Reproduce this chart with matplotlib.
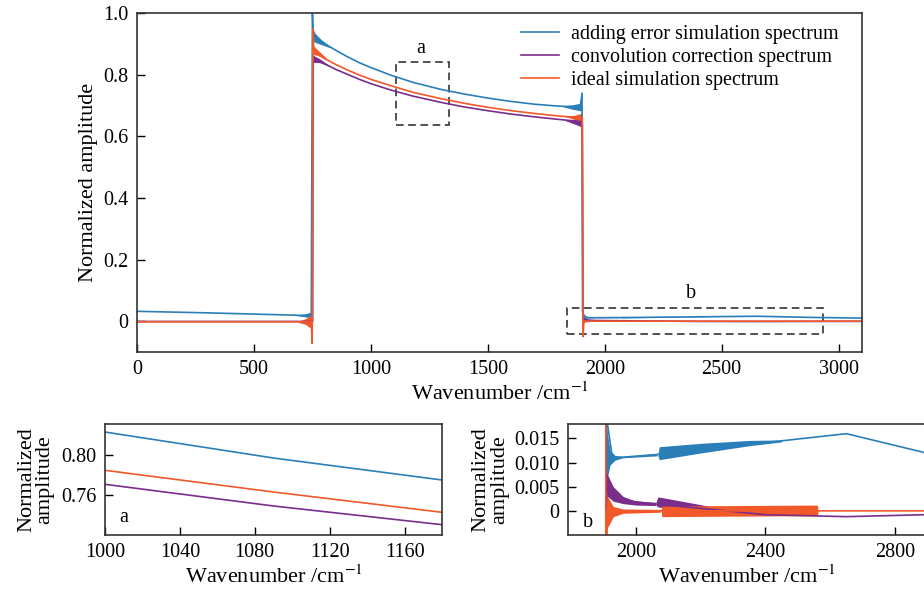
import matplotlib
matplotlib.use("Agg")
import matplotlib.pyplot as plt
from matplotlib.patches import Rectangle

plt.rcParams['font.family'] = ['Liberation Serif', 'DejaVu Serif']
plt.rcParams['mathtext.fontset'] = 'stix'

BLUE = '#2b7fb8'
PURPLE = '#7b2d8b'
ORANGE = '#f2592a'

# anchor points (wavenumber, amplitude)
blue_x = [0, 300, 600, 745, 750, 753, 760, 800, 850, 900, 950, 1000, 1090, 1180, 1300, 1400,
          1500, 1600, 1700, 1800, 1895, 1903, 1905, 1912, 1925, 1935, 2070, 2650, 2890, 3100]
blue_y = [0.032, 0.027, 0.021, 0.018, 1.0, 0.94, 0.925, 0.902, 0.879, 0.858, 0.839, 0.823,
          0.797, 0.775, 0.752, 0.737, 0.724, 0.713, 0.704, 0.698, 0.695, 0.74, 0.03, 0.018,
          0.012, 0.011, 0.0117, 0.016, 0.0121, 0.010]

purple_x = [0, 745, 751, 753, 760, 800, 850, 900, 950, 1000, 1090, 1180, 1300, 1400, 1500,
            1600, 1700, 1800, 1895, 1904, 1907, 1912, 1930, 1960, 2060, 2250, 2400, 2650,
            2890, 3100]
purple_y = [-0.001, -0.001, -0.001, 0.86, 0.855, 0.836, 0.817, 0.801, 0.785, 0.7707, 0.749,
            0.7303, 0.71, 0.695, 0.683, 0.672, 0.663, 0.655, 0.648, 0.645, 0.0, 0.006,
            0.0035, 0.0022, 0.0014, 0.0002, -0.0008, -0.0012, -0.0008, -0.0006]

orange_x = [0, 745, 749, 752, 756, 760, 800, 850, 900, 950, 1000, 1090, 1180, 1300, 1400,
            1500, 1600, 1700, 1800, 1895, 1904, 1907, 1911, 3100]
orange_y = [-0.002, -0.002, -0.072, 0.95, 0.88, 0.875, 0.853, 0.833, 0.815, 0.799, 0.7847,
            0.763, 0.7427, 0.722, 0.707, 0.694, 0.683, 0.674, 0.666, 0.660, 0.66, -0.05,
            0.0, 0.0]

# ringing envelopes: (x, lower, upper)
blue_bands = [
    ([680, 720, 746], [0.018, 0.014, 0.010], [0.020, 0.024, 0.030]),
    ([753, 760, 790, 830], [0.91, 0.905, 0.897, 0.886], [0.95, 0.935, 0.912, 0.889]),
    ([1820, 1860, 1900], [0.696, 0.688, 0.682], [0.699, 0.702, 0.708]),
    ([1907, 1912, 1920, 1935, 1960, 2065], [0.0, 0.007, 0.0095, 0.0105, 0.011, 0.0114],
     [0.02, 0.016, 0.0125, 0.0115, 0.0113, 0.0119]),
    ([2068, 2072, 2200, 2350, 2450], [0.0114, 0.0106, 0.0120, 0.0135, 0.0143],
     [0.0119, 0.0133, 0.0140, 0.0146, 0.0147]),
]
purple_bands = [
    ([754, 780, 820], [0.84, 0.839, 0.828], [0.862, 0.852, 0.831]),
    ([1830, 1870, 1902], [0.651, 0.640, 0.630], [0.654, 0.655, 0.658]),
    ([1907, 1912, 1930, 1960, 2000, 2060], [0.0, 0.003, 0.002, 0.0015, 0.0012, 0.0011],
     [0.008, 0.0075, 0.005, 0.003, 0.002, 0.0018]),
    ([2062, 2068, 2150, 2280], [0.0011, 0.0008, 0.0003, -0.0001], [0.0018, 0.0029, 0.0019, 0.0003]),
]
orange_bands = [
    ([690, 720, 746], [-0.004, -0.010, -0.025], [0.0, 0.008, 0.020]),
    ([753, 770, 810], [0.865, 0.863, 0.849], [0.895, 0.882, 0.853]),
    ([1830, 1870, 1902], [0.664, 0.655, 0.645], [0.666, 0.668, 0.675]),
    ([1907, 1912, 1930, 1960, 2075], [-0.006, -0.0035, -0.0012, -0.0005, -0.0003],
     [0.006, 0.003, 0.0009, 0.0004, 0.0003]),
    ([2078, 2080, 2300, 2560, 2562], [-0.0003, -0.0012, -0.0011, -0.0010, -0.0003],
     [0.0003, 0.0010, 0.0011, 0.0012, 0.0003]),
]

series = [
    ('adding error simulation spectrum', BLUE, blue_x, blue_y, blue_bands),
    ('convolution correction spectrum', PURPLE, purple_x, purple_y, purple_bands),
    ('ideal simulation spectrum', ORANGE, orange_x, orange_y, orange_bands),
]

main_yticks = [0, 0.2, 0.4, 0.6, 0.8, 1.0]
main_ylabels = ['0', '0.2', '0.4', '0.6', '0.8', '1.0']
main_xticks = [0, 500, 1000, 1500, 2000, 2500, 3000]
a_xticks = [1000, 1040, 1080, 1120, 1160]
a_yticks = [0.76, 0.80]
a_ylabels = ['0.76', '0.80']
b_xticks = [2000, 2400, 2800]
b_yticks = [0, 0.005, 0.010, 0.015]
b_ylabels = ['0', '0.005', '0.010', '0.015']

XLABEL = 'Wavenumber /cm$^{-1}$'
FS = 14.5   # ticks, legend, letters
LFS = 16    # axis labels


def draw(ax, lw):
    for name, color, xs, ys, bands in series:
        ax.plot(xs, ys, color=color, lw=lw, label=name)
        for bx, lo, hi in bands:
            ax.fill_between(bx, lo, hi, color=color, lw=0)


def style(ax):
    for s in ax.spines.values():
        s.set_linewidth(1.2)
        s.set_color('#333333')
    ax.tick_params(direction='in', length=6, width=1, labelsize=FS, pad=6,
                   top=False, right=False)


fig = plt.figure(figsize=(9.24, 5.89), dpi=100)

ax = fig.add_axes([0.1483, 0.4024, 0.7846, 0.5755])
draw(ax, 1.2)
ax.set_xlim(0, 3100)
ax.set_ylim(-0.1, 1.0)
ax.set_xticks(main_xticks)
ax.set_yticks(main_yticks, main_ylabels)
ax.set_xlabel(XLABEL, fontsize=LFS, labelpad=2)
ax.set_ylabel('Normalized amplitude', fontsize=LFS, labelpad=4)
style(ax)
ax.add_patch(Rectangle((1108, 0.636), 227, 0.205, fill=False, ls=(0, (5, 3)), lw=1.1, color='#222222'))
ax.text(1215, 0.885, 'a', fontsize=FS, ha='center', va='center')
ax.add_patch(Rectangle((1840, -0.043), 1095, 0.086, fill=False, ls=(0, (5, 3)), lw=1.1, color='#222222'))
ax.text(2370, 0.09, 'b', fontsize=FS, ha='center', va='center')
ax.legend(loc='upper right', bbox_to_anchor=(0.985, 1.0), frameon=False, fontsize=FS,
          handlelength=1.9, handletextpad=0.6, labelspacing=0.2, borderaxespad=0.2)

axa = fig.add_axes([0.1136, 0.0917, 0.3648, 0.1884])
draw(axa, 1.2)
axa.set_xlim(1000, 1180)
axa.set_ylim(0.72, 0.831)
axa.set_xticks(a_xticks)
axa.set_yticks(a_yticks, a_ylabels)
axa.set_xlabel(XLABEL, fontsize=LFS, labelpad=2)
axa.set_ylabel('Normalized\namplitude', fontsize=LFS, labelpad=5, linespacing=0.95)
style(axa)
axa.text(1010, 0.737, 'a', fontsize=FS, ha='center', va='center')

axb = fig.add_axes([0.6147, 0.0917, 0.3872, 0.1884])
draw(axb, 1.2)
axb.set_xlim(1790, 2895)
axb.set_ylim(-0.005, 0.018)
axb.set_xticks(b_xticks)
axb.set_yticks(b_yticks, b_ylabels)
axb.set_xlabel(XLABEL, fontsize=LFS, labelpad=2)
axb.set_ylabel('Normalized\namplitude', fontsize=LFS, labelpad=4, linespacing=0.95)
style(axb)
axb.text(1852, -0.0025, 'b', fontsize=FS, ha='center', va='center')

fig.savefig('out.png', dpi=100)
